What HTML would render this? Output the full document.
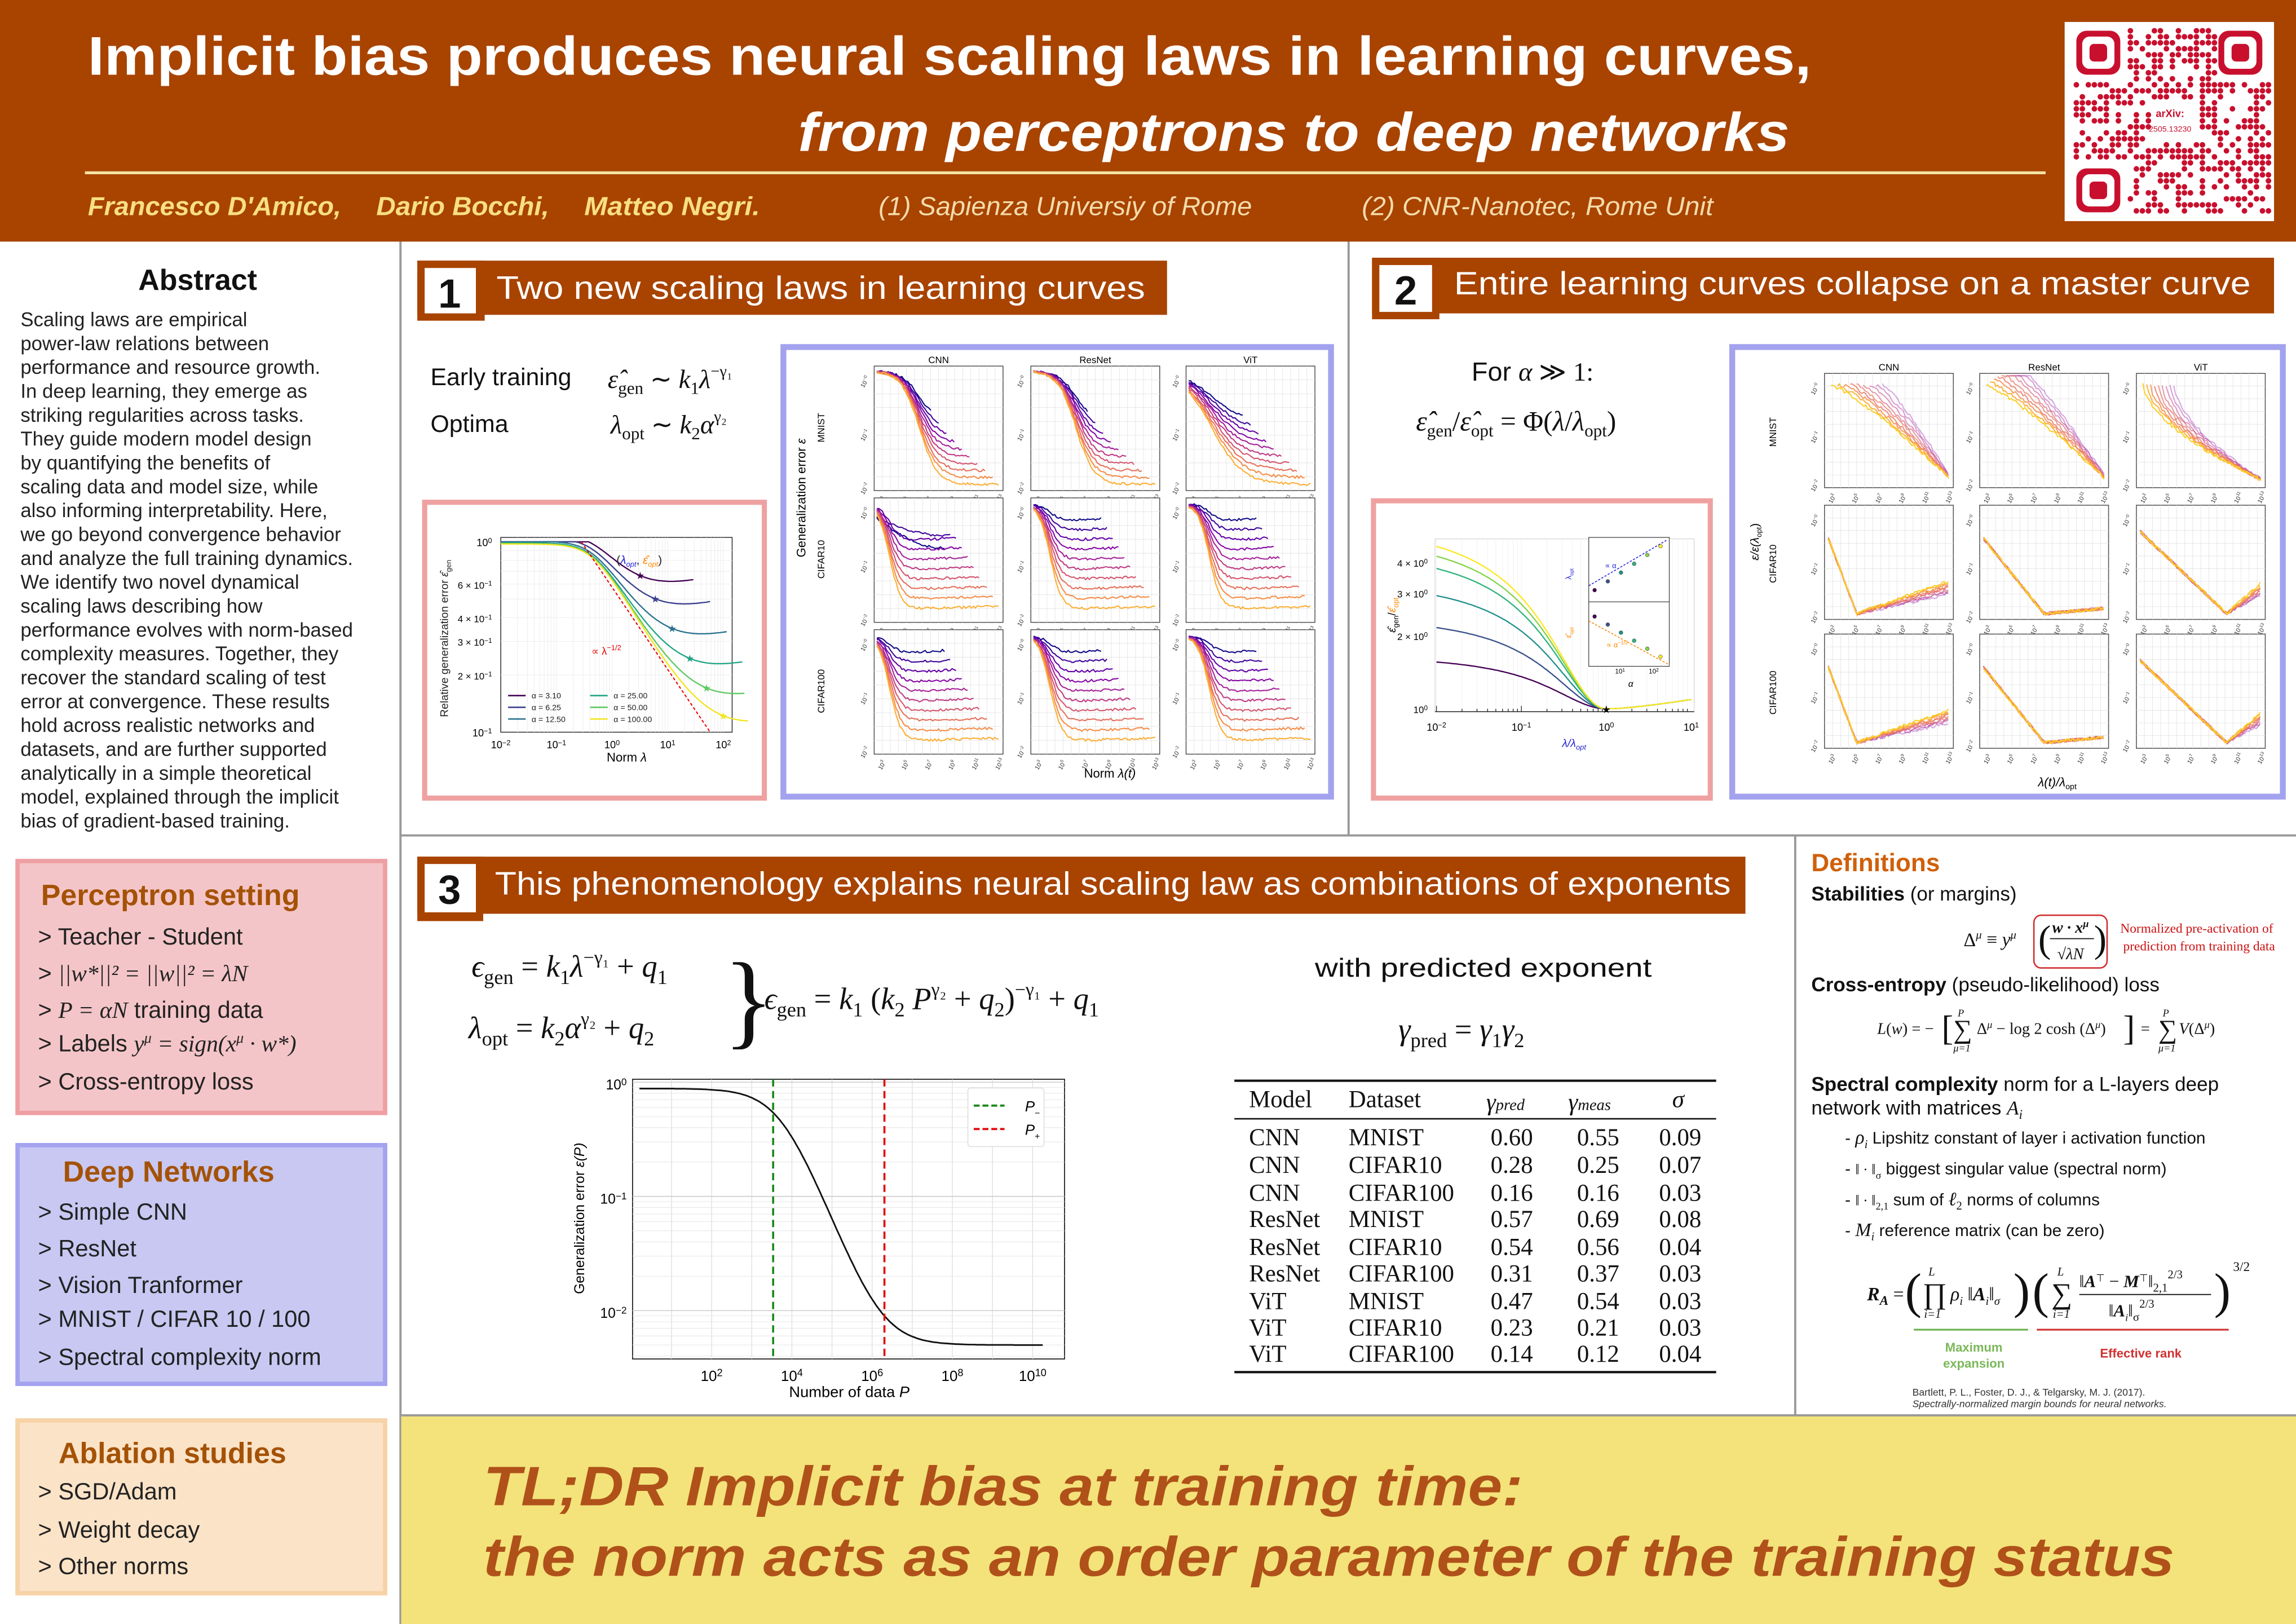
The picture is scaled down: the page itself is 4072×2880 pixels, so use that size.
<!DOCTYPE html>
<html><head><meta charset="utf-8">
<style>
html,body{margin:0;padding:0;background:#fff;}
svg{display:block}
text{font-family:"Liberation Sans",sans-serif}
.sf,.sf text,.sf tspan,text.sf,tspan.sf{font-family:"Liberation Serif",serif}
</style></head><body>
<svg id="s" xmlns="http://www.w3.org/2000/svg" width="4072" height="2880" viewBox="0 0 1568 1109" preserveAspectRatio="none">
<rect x="0" y="0" width="1568" height="1109" fill="#fff"/>
<!-- header -->
<rect x="0" y="0" width="1568" height="165" fill="#a84300"/>
<text x="60" y="51" font-size="37" font-weight="bold" fill="#fff" textLength="1177" lengthAdjust="spacingAndGlyphs">Implicit bias produces neural scaling laws in learning curves,</text>
<text x="545" y="103" font-size="37" font-weight="bold" font-style="italic" fill="#fff" textLength="677" lengthAdjust="spacingAndGlyphs">from perceptrons to deep networks</text>
<line x1="58" y1="118" x2="1397" y2="118" stroke="#f3e3a3" stroke-width="2"/>
<g font-size="18" font-style="italic" fill="#f8df84" font-weight="bold">
<text x="60" y="147" textLength="173" lengthAdjust="spacingAndGlyphs">Francesco D'Amico,</text>
<text x="257" y="147" textLength="118" lengthAdjust="spacingAndGlyphs">Dario Bocchi,</text>
<text x="399" y="147" textLength="120" lengthAdjust="spacingAndGlyphs">Matteo Negri.</text>
</g>
<g font-size="18" font-style="italic" fill="#f5dcaa">
<text x="600" y="147" textLength="255" lengthAdjust="spacingAndGlyphs">(1) Sapienza Universiy of Rome</text>
<text x="930" y="147" textLength="240" lengthAdjust="spacingAndGlyphs">(2) CNR-Nanotec, Rome Unit</text>
</g>
<rect x="1410" y="15" width="143" height="136" fill="#fff"/>
<g id="qr"></g>

<!-- separators -->
<line x1="273.5" y1="165" x2="273.5" y2="1109" stroke="#999" stroke-width="1.5"/>
<line x1="921" y1="165" x2="921" y2="570" stroke="#999" stroke-width="1.5"/>
<line x1="273" y1="570.5" x2="1568" y2="570.5" stroke="#999" stroke-width="1.5"/>
<line x1="1226" y1="570" x2="1226" y2="966" stroke="#999" stroke-width="1.5"/>
<rect x="274" y="967" width="1294" height="142" fill="#f3e37a"/>
<line x1="273" y1="966.5" x2="1568" y2="966.5" stroke="#999" stroke-width="1.5"/>
<text x="330" y="1028" font-size="38" font-weight="bold" font-style="italic" fill="#b0511a" textLength="710" lengthAdjust="spacingAndGlyphs">TL;DR  Implicit bias at training time:</text>
<text x="330" y="1076" font-size="38" font-weight="bold" font-style="italic" fill="#b0511a" textLength="1155" lengthAdjust="spacingAndGlyphs">the norm acts as an order parameter of the training status</text>

<!-- abstract -->
<text x="135" y="198" font-size="20" font-weight="bold" text-anchor="middle" fill="#111">Abstract</text>
<g id="abs" font-size="13.4" fill="#222"></g>

<!-- boxes left -->
<rect x="12" y="588" width="251" height="172" fill="#f4c5c8" stroke="#ee9fa2" stroke-width="3"/>
<text x="28" y="618" font-size="20" font-weight="bold" fill="#a45206">Perceptron setting</text>
<g font-size="16" fill="#222">
<text x="26" y="645">&gt; Teacher - Student</text>
<text x="26" y="670">&gt; <tspan class="sf" font-style="italic">||w*||² = ||w||² = λN</tspan></text>
<text x="26" y="695">&gt; <tspan class="sf" font-style="italic">P = αN</tspan> training data</text>
<text x="26" y="718">&gt; Labels  <tspan class="sf" font-style="italic">y<tspan font-size="10" dy="-6">μ</tspan><tspan dy="6"> = sign(x</tspan><tspan font-size="10" dy="-6">μ</tspan><tspan dy="6"> · w*)</tspan></tspan></text>
<text x="26" y="744">&gt; Cross-entropy loss</text>
</g>
<rect x="12" y="782" width="251" height="163" fill="#c8c8f3" stroke="#a3a3ef" stroke-width="3"/>
<text x="43" y="807" font-size="20" font-weight="bold" fill="#a45206">Deep Networks</text>
<g font-size="16" fill="#222">
<text x="26" y="833">&gt; Simple CNN</text>
<text x="26" y="858">&gt; ResNet</text>
<text x="26" y="883">&gt; Vision Tranformer</text>
<text x="26" y="906">&gt; MNIST / CIFAR 10 / 100</text>
<text x="26" y="932">&gt; Spectral complexity norm</text>
</g>
<rect x="12" y="970" width="251" height="118" fill="#fbe3c7" stroke="#f6d3a7" stroke-width="3"/>
<text x="40" y="999" font-size="20" font-weight="bold" fill="#a45206">Ablation studies</text>
<g font-size="16" fill="#222">
<text x="26" y="1024">&gt; SGD/Adam</text>
<text x="26" y="1050">&gt; Weight decay</text>
<text x="26" y="1075">&gt; Other norms</text>
</g>

<!-- section title boxes -->
<rect x="285" y="178" width="512" height="37" fill="#a84300"/>
<rect x="285" y="178" width="46" height="41" fill="#a84300"/>
<rect x="290" y="183" width="35" height="31" fill="#fff"/>
<text x="307" y="210" font-size="28" font-weight="bold" text-anchor="middle" fill="#111">1</text>
<text x="339" y="204" font-size="22" fill="#fff" textLength="443" lengthAdjust="spacingAndGlyphs">Two new scaling laws in learning curves</text>

<rect x="937" y="176" width="616" height="38" fill="#a84300"/>
<rect x="937" y="176" width="46" height="42" fill="#a84300"/>
<rect x="942" y="181" width="36" height="32" fill="#fff"/>
<text x="960" y="208" font-size="28" font-weight="bold" text-anchor="middle" fill="#111">2</text>
<text x="993" y="201" font-size="22" fill="#fff" textLength="544" lengthAdjust="spacingAndGlyphs">Entire learning curves collapse on a master curve</text>

<rect x="285" y="585" width="907" height="39" fill="#a84300"/>
<rect x="285" y="585" width="45" height="44" fill="#a84300"/>
<rect x="290" y="590" width="35" height="33" fill="#fff"/>
<text x="307" y="617" font-size="28" font-weight="bold" text-anchor="middle" fill="#111">3</text>
<text x="338" y="611" font-size="22" fill="#fff" textLength="844" lengthAdjust="spacingAndGlyphs">This phenomenology explains neural scaling law as combinations of exponents</text>

<!-- panel 1 equations -->
<text x="294" y="263" font-size="16.5" fill="#111">Early training</text>
<text x="294" y="295" font-size="16.5" fill="#111">Optima</text>
<text x="415" y="265" font-size="18" class="sf" fill="#111"><tspan font-style="italic">ε̂</tspan><tspan font-size="12" dy="4">gen</tspan><tspan dy="-4"> ∼ </tspan><tspan font-style="italic">k</tspan><tspan font-size="12" dy="4">1</tspan><tspan dy="-4" font-style="italic">λ</tspan><tspan font-size="11" dy="-8">−γ₁</tspan></text>
<text x="417" y="296" font-size="18" class="sf" fill="#111"><tspan font-style="italic">λ</tspan><tspan font-size="12" dy="4">opt</tspan><tspan dy="-4"> ∼ </tspan><tspan font-style="italic">k</tspan><tspan font-size="12" dy="4">2</tspan><tspan dy="-4" font-style="italic">α</tspan><tspan font-size="11" dy="-8">γ₂</tspan></text>

<!-- panel 2 equations -->
<text x="1005" y="260" font-size="18" fill="#111">For  <tspan class="sf" font-style="italic">α</tspan><tspan class="sf"> ≫ 1:</tspan></text>
<text x="967" y="294" font-size="19" class="sf" fill="#111"><tspan font-style="italic">ε̂</tspan><tspan font-size="12" dy="4">gen</tspan><tspan dy="-4">/</tspan><tspan font-style="italic">ε̂</tspan><tspan font-size="12" dy="4">opt</tspan><tspan dy="-4"> = Φ(</tspan><tspan font-style="italic">λ</tspan><tspan>/</tspan><tspan font-style="italic">λ</tspan><tspan font-size="12" dy="4">opt</tspan><tspan dy="-4">)</tspan></text>

<!-- boxes panels 1,2 -->
<rect x="290" y="343" width="232" height="202" fill="#fff" stroke="#efa1a1" stroke-width="3.5"/>
<rect x="535" y="237" width="374" height="307" fill="#fff" stroke="#a2a2ee" stroke-width="4"/>
<rect x="938" y="342" width="230" height="203" fill="#fff" stroke="#efa1a1" stroke-width="3.5"/>
<rect x="1183" y="237" width="376" height="307" fill="#fff" stroke="#a2a2ee" stroke-width="4"/>

<!-- panel 3 equations -->
<g class="sf" fill="#111" font-size="21">
<text x="322" y="667"><tspan font-style="italic">ϵ</tspan><tspan font-size="14" dy="5">gen</tspan><tspan dy="-5"> = </tspan><tspan font-style="italic">k</tspan><tspan font-size="14" dy="5">1</tspan><tspan dy="-5" font-style="italic">λ</tspan><tspan font-size="13" dy="-9">−γ₁</tspan><tspan dy="9"> + </tspan><tspan font-style="italic">q</tspan><tspan font-size="14" dy="5">1</tspan></text>
<text x="320" y="709"><tspan font-style="italic">λ</tspan><tspan font-size="14" dy="5">opt</tspan><tspan dy="-5"> = </tspan><tspan font-style="italic">k</tspan><tspan font-size="14" dy="5">2</tspan><tspan dy="-5" font-style="italic">α</tspan><tspan font-size="13" dy="-9">γ₂</tspan><tspan dy="9"> + </tspan><tspan font-style="italic">q</tspan><tspan font-size="14" dy="5">2</tspan></text>
<text x="494" y="707" font-size="72" font-weight="normal">}</text>
<text x="522" y="689"><tspan font-style="italic">ϵ</tspan><tspan font-size="14" dy="5">gen</tspan><tspan dy="-5"> = </tspan><tspan font-style="italic">k</tspan><tspan font-size="14" dy="5">1</tspan><tspan dy="-5"> (</tspan><tspan font-style="italic">k</tspan><tspan font-size="14" dy="5">2</tspan><tspan dy="-5" font-style="italic"> P</tspan><tspan font-size="13" dy="-9">γ₂</tspan><tspan dy="9"> + </tspan><tspan font-style="italic">q</tspan><tspan font-size="14" dy="5">2</tspan><tspan dy="-5">)</tspan><tspan font-size="13" dy="-9">−γ₁</tspan><tspan dy="9"> + </tspan><tspan font-style="italic">q</tspan><tspan font-size="14" dy="5">1</tspan></text>
<text x="955" y="710"><tspan font-style="italic">γ</tspan><tspan font-size="14" dy="5">pred</tspan><tspan dy="-5"> = </tspan><tspan font-style="italic">γ</tspan><tspan font-size="14" dy="5">1</tspan><tspan dy="-5" font-style="italic">γ</tspan><tspan font-size="14" dy="5">2</tspan></text>
</g>
<text x="898" y="667" font-size="18" fill="#111" textLength="230" lengthAdjust="spacingAndGlyphs">with predicted exponent</text>

<!-- table -->
<g stroke="#111">
<line x1="843" y1="738" x2="1172" y2="738" stroke-width="1.6"/>
<line x1="843" y1="764" x2="1172" y2="764" stroke-width="1"/>
<line x1="843" y1="937" x2="1172" y2="937" stroke-width="1.6"/>
</g>
<g id="tbl" class="sf" font-size="16.5" fill="#111"></g>

<!-- definitions -->
<text x="1237" y="595" font-size="17" font-weight="bold" fill="#d0600a">Definitions</text>
<text x="1237" y="615" font-size="13.5" fill="#111"><tspan font-weight="bold">Stabilities</tspan> (or margins)</text>
<g class="sf" fill="#111">
<text x="1341" y="646" font-size="13">Δ<tspan font-size="8" dy="-5" font-style="italic">μ</tspan><tspan dy="5"> ≡ </tspan><tspan font-style="italic">y</tspan><tspan font-size="8" dy="-5" font-style="italic">μ</tspan></text>
<text x="1392" y="650" font-size="26">(</text>
<text x="1430" y="650" font-size="26">)</text>
<text x="1414" y="637" font-size="11" text-anchor="middle" font-style="italic" font-weight="bold">w · x<tspan font-size="7" dy="-4">μ</tspan></text>
<line x1="1400" y1="641" x2="1430" y2="641" stroke="#111" stroke-width="0.7"/>
<text x="1414" y="655" font-size="11" text-anchor="middle" font-style="italic">√λN</text>
</g>
<rect x="1389" y="625" width="50" height="36" rx="5" fill="none" stroke="#d03030" stroke-width="1"/>
<text x="1448" y="637" font-size="9" class="sf" fill="#cc1111">Normalized pre-activation of</text>
<text x="1450" y="649" font-size="9" class="sf" fill="#cc1111">prediction from training data</text>
<text x="1237" y="677" font-size="13.5" fill="#111"><tspan font-weight="bold">Cross-entropy</tspan> (pseudo-likelihood) loss</text>
<g class="sf" fill="#111" font-size="11">
<text x="1282" y="706"><tspan font-style="italic">L</tspan>(<tspan font-style="italic">w</tspan>) = −</text>
<text x="1326" y="710" font-size="24">[</text>
<text x="1334" y="709" font-size="18">∑</text>
<text x="1337" y="694" font-size="7" font-style="italic">P</text>
<text x="1334" y="718" font-size="7" font-style="italic">μ=1</text>
<text x="1350" y="706">Δ<tspan font-size="7" dy="-4" font-style="italic">μ</tspan><tspan dy="4"> − log 2 cosh (Δ</tspan><tspan font-size="7" dy="-4" font-style="italic">μ</tspan><tspan dy="4">)</tspan></text>
<text x="1450" y="710" font-size="24">]</text>
<text x="1462" y="706">=</text>
<text x="1474" y="709" font-size="18">∑</text>
<text x="1477" y="694" font-size="7" font-style="italic">P</text>
<text x="1474" y="718" font-size="7" font-style="italic">μ=1</text>
<text x="1488" y="706"><tspan font-style="italic">V</tspan>(Δ<tspan font-size="7" dy="-4" font-style="italic">μ</tspan><tspan dy="4">)</tspan></text>
</g>
<text x="1237" y="745" font-size="13.5" fill="#111"><tspan font-weight="bold">Spectral complexity</tspan> norm for a L-layers deep</text>
<text x="1237" y="761" font-size="13.5" fill="#111">network with matrices <tspan class="sf" font-style="italic">A</tspan><tspan class="sf" font-style="italic" font-size="9" dy="3">i</tspan></text>
<g font-size="11.5" fill="#111">
<text x="1260" y="781">-  <tspan class="sf" font-style="italic" font-size="13">ρ</tspan><tspan class="sf" font-style="italic" font-size="8" dy="3">i</tspan><tspan dy="-3">  Lipshitz constant of layer i activation function</tspan></text>
<text x="1260" y="802">-  <tspan class="sf" font-size="10">‖ · ‖</tspan><tspan class="sf" font-size="7" dy="3">σ</tspan><tspan dy="-3"> biggest singular value (spectral norm)</tspan></text>
<text x="1260" y="823">-  <tspan class="sf" font-size="10">‖ · ‖</tspan><tspan class="sf" font-size="7" dy="3">2,1</tspan><tspan dy="-3"> sum of  </tspan><tspan class="sf" font-style="italic" font-size="13">ℓ</tspan><tspan class="sf" font-size="8" dy="3">2</tspan><tspan dy="-3">  norms of columns</tspan></text>
<text x="1260" y="844">-  <tspan class="sf" font-style="italic" font-size="13">M</tspan><tspan class="sf" font-style="italic" font-size="8" dy="3">i</tspan><tspan dy="-3">  reference matrix (can be zero)</tspan></text>
</g>
<g class="sf" fill="#111" font-size="13">
<text x="1275" y="888" font-style="italic" font-weight="bold">R<tspan font-size="9" dy="3">A</tspan><tspan dy="-3" font-weight="normal" font-style="normal"> =</tspan></text>
<text x="1301" y="893" font-size="34">(</text>
<text x="1313" y="890" font-size="20">∏</text>
<text x="1317" y="871" font-size="8" font-style="italic">L</text>
<text x="1314" y="900" font-size="8" font-style="italic">i=1</text>
<text x="1332" y="888"><tspan font-style="italic">ρ</tspan><tspan font-size="8" dy="3" font-style="italic">i</tspan><tspan dy="-3"> ‖</tspan><tspan font-style="italic" font-weight="bold">A</tspan><tspan font-size="8" dy="3" font-style="italic">i</tspan><tspan dy="-3">‖</tspan><tspan font-size="8" dy="3" font-style="italic">σ</tspan></text>
<text x="1375" y="893" font-size="34">)</text>
<text x="1388" y="893" font-size="34">(</text>
<text x="1401" y="890" font-size="20">∑</text>
<text x="1405" y="871" font-size="8" font-style="italic">L</text>
<text x="1402" y="900" font-size="8" font-style="italic">i=1</text>
<text x="1420" y="879" font-size="12">‖<tspan font-style="italic" font-weight="bold">A</tspan><tspan font-size="7" dy="-4">⊤</tspan><tspan dy="4"> − </tspan><tspan font-style="italic" font-weight="bold">M</tspan><tspan font-size="7" dy="-4">⊤</tspan><tspan dy="4">‖</tspan><tspan font-size="8" dy="3">2,1</tspan><tspan font-size="8" dy="-9">2/3</tspan></text>
<line x1="1420" y1="884" x2="1510" y2="884" stroke="#111" stroke-width="0.7"/>
<text x="1440" y="899" font-size="12">‖<tspan font-style="italic" font-weight="bold">A</tspan><tspan font-size="7" dy="3" font-style="italic">i</tspan><tspan dy="-3">‖</tspan><tspan font-size="8" dy="3">σ</tspan><tspan font-size="8" dy="-9">2/3</tspan></text>
<text x="1512" y="893" font-size="34">)</text>
<text x="1525" y="868" font-size="9">3/2</text>
</g>
<line x1="1307" y1="908" x2="1385" y2="908" stroke="#6ab04c" stroke-width="1.2"/>
<line x1="1391" y1="908" x2="1522" y2="908" stroke="#d03030" stroke-width="1.2"/>
<text x="1348" y="923" font-size="8.5" font-weight="bold" fill="#7ab85a" text-anchor="middle">Maximum</text>
<text x="1348" y="934" font-size="8.5" font-weight="bold" fill="#7ab85a" text-anchor="middle">expansion</text>
<text x="1462" y="927" font-size="8.5" font-weight="bold" fill="#d03030" text-anchor="middle">Effective rank</text>
<text x="1306" y="953" font-size="6.8" fill="#333">Bartlett, P. L., Foster, D. J., &amp; Telgarsky, M. J. (2017).</text>
<text x="1306" y="961" font-size="6.8" font-style="italic" fill="#333">Spectrally-normalized margin bounds for neural networks.</text>

<g id="dyn"></g>
</svg>
<script>
(function(){
const S=document.getElementById('dyn');
let o='';
let seed=12345;function rnd(){seed=(seed*16807)%2147483647;return seed/2147483647;}
function pl(pts,c,w,ex){return '<polyline points="'+pts.map(p=>p[0].toFixed(1)+','+p[1].toFixed(1)).join(' ')+'" fill="none" stroke="'+c+'" stroke-width="'+w+'" '+(ex||'')+'/>';}
function L(x1,y1,x2,y2,c,w,ex){return '<line x1="'+x1+'" y1="'+y1+'" x2="'+x2+'" y2="'+y2+'" stroke="'+c+'" stroke-width="'+w+'" '+(ex||'')+'/>';}
function T(x,y,s,fs,ex){return '<text x="'+x+'" y="'+y+'" font-size="'+fs+'" '+(ex||'')+'>'+s+'</text>';}
function pw(b,e){return b+'<tspan font-size="0.7em" dy="-0.45em">'+e+'</tspan>';}

const abs=["Scaling laws are empirical","power-law relations between","performance and resource growth.","In deep learning, they emerge as","striking regularities across tasks.","They guide modern model design","by quantifying the benefits of","scaling data and model size, while","also informing interpretability. Here,","we go beyond convergence behavior","and analyze the full training dynamics.","We identify two novel dynamical","scaling laws describing how","performance evolves with norm-based","complexity measures. Together, they","recover the standard scaling of test","error at convergence. These results","hold across realistic networks and","datasets, and are further supported","analytically in a simple theoretical","model, explained through the implicit","bias of gradient-based training."];
let a='';abs.forEach((t,i)=>{a+='<text x="14" y="'+(222.8+16.3*i).toFixed(1)+'">'+t+'</text>';});
document.getElementById('abs').innerHTML=a;

const rows=[["CNN","MNIST","0.60","0.55","0.09"],["CNN","CIFAR10","0.28","0.25","0.07"],["CNN","CIFAR100","0.16","0.16","0.03"],["ResNet","MNIST","0.57","0.69","0.08"],["ResNet","CIFAR10","0.54","0.56","0.04"],["ResNet","CIFAR100","0.31","0.37","0.03"],["ViT","MNIST","0.47","0.54","0.03"],["ViT","CIFAR10","0.23","0.21","0.03"],["ViT","CIFAR100","0.14","0.12","0.04"]];
const ry=[782,801,820,838,857,875,894,912,930];
let tb='<text x="853" y="756">Model</text><text x="921" y="756">Dataset</text><text x="1015" y="758" font-style="italic">γ<tspan font-size="11">pred</tspan></text><text x="1071" y="758" font-style="italic">γ<tspan font-size="11">meas</tspan></text><text x="1142" y="756" font-style="italic">σ</text>';
rows.forEach((r,i)=>{tb+='<text x="853" y="'+ry[i]+'">'+r[0]+'</text><text x="921" y="'+ry[i]+'">'+r[1]+'</text><text x="1018" y="'+ry[i]+'">'+r[2]+'</text><text x="1077" y="'+ry[i]+'">'+r[3]+'</text><text x="1133" y="'+ry[i]+'">'+r[4]+'</text>';});
document.getElementById('tbl').innerHTML=tb;

let q='';
function finder(x,y){return '<rect x="'+x+'" y="'+y+'" width="30" height="30" rx="7" fill="#c8102e"/><rect x="'+(x+4)+'" y="'+(y+4)+'" width="22" height="22" rx="5" fill="#fff"/><rect x="'+(x+9)+'" y="'+(y+9)+'" width="12" height="12" rx="3" fill="#c8102e"/>';}
for(let i=0;i<33;i++)for(let j=0;j<31;j++){
 const x=1416+i*4.1,y=19+j*4.1;
 if((i<9&&j<9)||(i>23&&j<9)||(i<9&&j>21))continue;
 if(i>12&&i<21&&j>11&&j<19)continue;
 if(rnd()<0.5)q+='<circle cx="'+(x+2).toFixed(1)+'" cy="'+(y+2).toFixed(1)+'" r="1.9" fill="#c8102e"/>';
}
q+=finder(1418,21)+finder(1515,21)+finder(1418,115);
q+='<text x="1482" y="80" font-size="7" text-anchor="middle" fill="#c8102e" font-weight="bold">arXiv:</text><text x="1482" y="90" font-size="5.5" text-anchor="middle" fill="#c8102e">2505.13230</text>';
document.getElementById('qr').innerHTML=q;

{
 const X=l=>418+38*Math.log10(l), Y=e=>370-130*Math.log10(e);
 o+='<rect x="342" y="367" width="158" height="133" fill="none" stroke="#333" stroke-width="0.6"/>';
 for(let d=-2;d<=2;d++)for(let m=1;m<10;m++){const x=X(m*Math.pow(10,d));if(x>342&&x<500)o+=L(x,367,x,500,'#eee',0.4);}
 [0.2,0.3,0.4,0.5,0.6,0.7,0.8,0.9].forEach(v=>o+=L(342,Y(v),500,Y(v),'#eee',0.4));
 const cols=['#440154','#3b3f8c','#2c728e','#21a585','#5ec962','#f2e51d'];
 const mins=[0.62,0.475,0.33,0.23,0.16,0.115], lo=[3.2,6,12,25,50,100], ends=[30,60,120,220,250,280];
 cols.forEach((c,i)=>{
  let pts=[];
  for(let u=-2;u<=Math.log10(ends[i]);u+=0.02){
   const l=Math.pow(10,u);const f=Math.pow(1+Math.pow(l/0.45,2),-0.25);
   let e=Math.sqrt(f*f+mins[i]*mins[i]*0.72)*(1+0.09*Math.log(1+l/lo[i]))*0.97;
   if(e>1)e=1;
   pts.push([X(l),Y(e)]);}
  o+=pl(pts,c,0.9);
  let f=Math.pow(1+Math.pow(lo[i]/0.45,2),-0.25);let e=Math.sqrt(f*f+mins[i]*mins[i]*0.72)*(1+0.09*Math.log(2))*0.97;
  o+=T(X(lo[i]),Y(e)+2.5,'★',7,'text-anchor="middle" fill="'+c+'"');
 });
 o+=L(397,370,485,500,'#e00',0.8,'stroke-dasharray="2,1.5"');
 o+=T(404,447,'∝ λ<tspan font-size="5" dy="-3">−1/2</tspan>',7,'fill="#e00"');
 o+=T(421,385,'(<tspan fill="#22d" font-style="italic">λ<tspan font-size="5" dy="2">opt</tspan></tspan><tspan dy="-2">, </tspan><tspan fill="#f80" font-style="italic">ε̂<tspan font-size="5" dy="2">opt</tspan></tspan><tspan dy="-2">)</tspan>',8,'fill="#222"');
 const lg=[['α = 3.10',347,477],['α = 6.25',347,485],['α = 12.50',347,493],['α = 25.00',403,477],['α = 50.00',403,485],['α = 100.00',403,493]];
 lg.forEach((g,i)=>{o+=L(g[1],g[2]-2,g[1]+12,g[2]-2,cols[i],1);o+=T(g[1]+16,g[2],g[0],5.5,'fill="#222"');});
 o+=T(336,373,pw('10','0'),7,'text-anchor="end"');
 o+=T(336,402,'6 × '+pw('10','−1'),6.5,'text-anchor="end"');
 o+=T(336,425,'4 × '+pw('10','−1'),6.5,'text-anchor="end"');
 o+=T(336,441,'3 × '+pw('10','−1'),6.5,'text-anchor="end"');
 o+=T(336,464,'2 × '+pw('10','−1'),6.5,'text-anchor="end"');
 o+=T(336,503,pw('10','−1'),7,'text-anchor="end"');
 [-2,-1,0,1,2].forEach(d=>o+=T(X(Math.pow(10,d)),511,pw('10',d<0?'−'+(-d):d),7,'text-anchor="middle"'));
 o+=T(428,520,'Norm <tspan font-style="italic">λ</tspan>',8.5,'text-anchor="middle"');
 o+=T(0,0,'Relative generalization error <tspan font-style="italic">ε̂</tspan><tspan font-size="5" dy="2">gen</tspan>',7.5,'transform="translate(306,436) rotate(-90)" text-anchor="middle" fill="#222"');
}

const plasma=['#0d0887','#3e049c','#6300a7','#8606a6','#a62098','#c03a83','#d5546e','#e76f5a','#f58c46','#fdad32','#f9d027'];
function frame(x0,y0,w,h){
 let s='<rect x="'+x0+'" y="'+y0+'" width="'+w+'" height="'+h+'" fill="#fff" stroke="#555" stroke-width="0.6"/>';
 for(let k=1;k<16;k++){const gx=x0+w*k/16;s+=L(gx.toFixed(1),y0,gx.toFixed(1),y0+h,'#e4e4e4',0.35);}
 for(let k=1;k<9;k++){const gy=y0+h*k/9;s+=L(x0,gy.toFixed(1),x0+w,gy.toFixed(1),'#e4e4e4',0.35);}
 for(let k=0;k<6;k++){s+='<text transform="translate('+(x0+5+k*(w-8)/5).toFixed(1)+','+(y0+h+11)+') rotate(-60)" font-size="4.2" fill="#333">10<tspan font-size="3" dy="-2">'+(k*2+3)+'</tspan></text>';}
 for(let k=0;k<3;k++){s+='<text transform="translate('+(x0-3)+','+(y0+8+k*(h-12)/2).toFixed(1)+') rotate(-60)" font-size="4.2" fill="#333" text-anchor="end">10<tspan font-size="3" dy="-2">−'+k+'</tspan></text>';}
 return s;
}
function cellA(x0,y0,w,h,row,col){
 let s=frame(x0,y0,w,h);
 const n=10;
 for(let i=0;i<n;i++){
  const fi=i/(n-1);let pts=[];
  const tend=row==0?0.45+0.53*fi:(0.55+0.42*fi);
  for(let t=0.02;t<=tend;t+=0.015){
   let y;
   if(row==0){const fl=0.45+0.5*fi;const t0=col==2?0.2:0.35;y=0.04+(fl-0.04)/(1+Math.exp(-(t-t0)/(col==2?0.12:0.07)));}
   else{const fl=0.2+0.7*fi;const t0=0.12+0.03*col;y=0.05+(fl-0.05)/(1+Math.exp(-(t-t0)/0.045))-0.06*t*(1-fi*0.5);if(row==1&&col==0&&i<2)y=0.15+0.25*Math.sin(t*3)*(i?0.6:1);}
   y+=(rnd()-0.5)*0.02;
   pts.push([x0+w*t,y0+h*Math.min(0.98,Math.max(0.02,y))]);
  }
  s+=pl(pts,plasma[i],0.8);
 }
 return s;
}
const cxA=[597,704,810],cyA=[250,340,430];
for(let r=0;r<3;r++)for(let c=0;c<3;c++)o+=cellA(cxA[c],cyA[r],88,85,r,c);
['CNN','ResNet','ViT'].forEach((t,i)=>o+=T(cxA[i]+44,248,t,6.5,'text-anchor="middle"'));
['MNIST','CIFAR10','CIFAR100'].forEach((t,i)=>o+=T(0,0,t,6.5,'transform="translate(563,'+(cyA[i]+42)+') rotate(-90)" text-anchor="middle"'));
o+=T(0,0,'Generalization error <tspan font-style="italic">ε</tspan>',8.5,'transform="translate(550,340) rotate(-90)" text-anchor="middle"');
o+=T(758,531,'Norm <tspan font-style="italic">λ(t)</tspan>',8.5,'text-anchor="middle"');

function cellB(x0,y0,w,h,row,col){
 let s=frame(x0,y0,w,h);
 const n=9;
 for(let i=0;i<n;i++){
  const fi=i/(n-1);let pts=[];
  const op=0.35+0.65*fi;
  const c=plasma[3+Math.round(fi*7)];
  const ts=row==0?0.05+0.4*(1-fi)*(col==0?1:0.6):0.03;
  for(let t=ts;t<=0.97;t+=0.015){
   let y;
   if(row==0){const u=(t-ts)/(1-ts);y=0.1+0.85*Math.pow(u,col==2?0.6:1.2)+(col==1?-0.2*(1-fi)*(1-u):0);}
   else if(col==1){y=0.25+0.7*Math.min(1,t/0.5)-0.1*Math.max(0,t-0.5);}
   else{const tm=col==0?0.25:0.7;y=t<tm?0.2+0.75*t/tm:0.95-0.3*(t-tm)/(1-tm)*(0.6+0.4*fi);}
   y+=(rnd()-0.5)*0.03;
   pts.push([x0+w*t,y0+h*Math.min(0.98,Math.max(0.02,y))]);
  }
  s+=pl(pts,c,0.8,'stroke-opacity="'+op.toFixed(2)+'"');
 }
 return s;
}
const cxB=[1246,1352,1459],cyB=[255,345,433];
for(let r=0;r<3;r++)for(let c=0;c<3;c++)o+=cellB(cxB[c],cyB[r],88,78,r,c);
['CNN','ResNet','ViT'].forEach((t,i)=>o+=T(cxB[i]+44,253,t,6.5,'text-anchor="middle"'));
['MNIST','CIFAR10','CIFAR100'].forEach((t,i)=>o+=T(0,0,t,6.5,'transform="translate(1213,'+(cyB[i]+40)+') rotate(-90)" text-anchor="middle"'));
o+=T(0,0,'<tspan font-style="italic">ε/ε(λ</tspan><tspan font-size="5" dy="2">opt</tspan><tspan dy="-2">)</tspan>',8,'transform="translate(1201,370) rotate(-90)" text-anchor="middle"');
o+=T(1405,537,'<tspan font-style="italic">λ(t)/λ</tspan><tspan font-size="5.5" dy="2">opt</tspan>',8.5,'text-anchor="middle"');

{
 const X=u=>1097+58*u, Y=r=>484-168*Math.log10(r);
 o+='<rect x="980" y="368" width="177" height="118" fill="none" stroke="#ccc" stroke-width="0.4"/>';
 o+=L(980,486,1157,486,'#222',0.6);
 for(let d=-2;d<1;d++)for(let m=1;m<10;m++){const x=X(d+Math.log10(m));o+=L(x,368,x,486,'#f0f0f0',0.35);o+=L(x,486,x,m==1?482:484,'#222',0.5);}
 const cols=['#440154','#3b528b','#21918c','#2fb47c','#84d44b','#fde725'];
 const lv=[0.19,0.33,0.46,0.57,0.62,0.66];
 cols.forEach((c,i)=>{let pts=[];for(let u=-2;u<=1.02;u+=0.02){let lr=u<0?lv[i]*(1-1/(1+Math.pow(u/0.85,2)))/(1-1/(1+Math.pow(2/0.85,2))):0.04*u*u/(0.6+u)*1.5;pts.push([X(u),Y(Math.pow(10,lr))]);}o+=pl(pts,c,0.9);});
 o+=T(1097,487,'★',7,'text-anchor="middle"');
 o+=T(975,387,'4 × '+pw('10','0'),6.5,'text-anchor="end"');
 o+=T(975,408,'3 × '+pw('10','0'),6.5,'text-anchor="end"');
 o+=T(975,437,'2 × '+pw('10','0'),6.5,'text-anchor="end"');
 o+=T(975,487,pw('10','0'),6.5,'text-anchor="end"');
 [-2,-1,0,1].forEach(d=>o+=T(X(d),499,pw('10',d<0?'−'+(-d):d),7,'text-anchor="middle"'));
 o+=T(1075,510,'<tspan font-style="italic" fill="#22c">λ/λ<tspan font-size="5" dy="2">opt</tspan></tspan>',7.5,'text-anchor="middle"');
 o+=T(0,0,'<tspan font-style="italic">ε̂</tspan><tspan font-size="5" dy="2">gen</tspan><tspan dy="-2">/</tspan><tspan fill="#f80" font-style="italic">ε̂</tspan><tspan fill="#f80" font-size="5" dy="2">opt</tspan>',7.5,'transform="translate(953,420) rotate(-90)" text-anchor="middle"');
 o+='<rect x="1085" y="367" width="55" height="88" fill="#fff" stroke="#444" stroke-width="0.5"/>'+L(1085,411,1140,411,'#444',0.5);
 o+=L(1085,400,1138,369,'#22d',0.6,'stroke-dasharray="1.5,1"')+L(1085,424,1140,454,'#f80',0.6,'stroke-dasharray="1.5,1"');
 const pc=['#440154','#3b528b','#21918c','#2fb47c','#84d44b','#fde725'];
 pc.forEach((c,i)=>{o+='<circle cx="'+(1089+i*9)+'" cy="'+(403-i*6)+'" r="1.3" fill="'+c+'" stroke="#333" stroke-width="0.2"/>';o+='<circle cx="'+(1089+i*9)+'" cy="'+(421+i*5.5)+'" r="1.3" fill="'+c+'" stroke="#333" stroke-width="0.2"/>';});
 o+=T(1096,388,'∝ α',5,'fill="#22d"')+T(1097,442,'∝ α<tspan font-size="3.5" dy="-2">−1/2</tspan>',5,'fill="#f80"');
 o+=T(0,0,'λ<tspan font-size="3.5" dy="1.5">opt</tspan>',5.5,'transform="translate(1073,392) rotate(-90)" fill="#22d" text-anchor="middle"');
 o+=T(0,0,'ε̂<tspan font-size="3.5" dy="1.5">opt</tspan>',5.5,'transform="translate(1073,432) rotate(-90)" fill="#f80" text-anchor="middle"');
 o+=T(1103,460,pw('10','1'),4.5,'')+T(1126,460,pw('10','2'),4.5,'')+T(1112,469,'α',6,'font-style="italic"');
}

{
 const X=lp=>486+27.4*(lp-2), Y=e=>739-78*Math.log10(e);
 o+='<rect x="432" y="737" width="295" height="191" fill="#fff" stroke="#222" stroke-width="0.7"/>';
 for(let d=0;d<=10;d++){const x=X(d);if(x>432&&x<727)o+=L(x,737,x,928,'#ddd',0.5);}
 for(let d=-3;d<=0;d++)for(let m=1;m<10;m++){const y=Y(m*Math.pow(10,d));if(y>737&&y<928)o+=L(432,y,727,y,m==1?'#ccc':'#e6e6e6',m==1?0.6:0.4);}
 let pts=[];for(let lp=0.2;lp<=10.3;lp+=0.05){const P=Math.pow(10,lp);const e=0.005+0.875/(1+Math.pow(P/Math.pow(10,3.75),0.915));pts.push([X(lp),Y(e)]);}
 o+=pl(pts,'#111',1.1);
 o+=L(528,737,528,928,'#1a8a1a',1.4,'stroke-dasharray="5,3"')+L(604,737,604,928,'#e01010',1.4,'stroke-dasharray="5,3"');
 o+='<rect x="661" y="743" width="52" height="40" rx="2" fill="#fff" stroke="#ddd" stroke-width="0.6"/>';
 o+=L(665,755,686,755,'#1a8a1a',1.5,'stroke-dasharray="4,2"')+L(665,771,686,771,'#e01010',1.5,'stroke-dasharray="4,2"');
 o+=T(700,759,'<tspan font-style="italic">P</tspan><tspan font-size="6" dy="3">−</tspan>',10,'')+T(700,775,'<tspan font-style="italic">P</tspan><tspan font-size="6" dy="3">+</tspan>',10,'');
 [2,4,6,8,10].forEach(d=>o+=T(X(d),943,pw('10',d),10,'text-anchor="middle"'));
 o+=T(428,744,pw('10','0'),9.5,'text-anchor="end"')+T(428,822,pw('10','−1'),9.5,'text-anchor="end"')+T(428,900,pw('10','−2'),9.5,'text-anchor="end"');
 o+=T(580,954,'Number of data <tspan font-style="italic">P</tspan>',10.5,'text-anchor="middle"');
 o+=T(0,0,'Generalization error <tspan font-style="italic">ε(P)</tspan>',9.5,'transform="translate(399,832) rotate(-90)" text-anchor="middle"');
}
S.innerHTML=o;
})();
</script>
</body></html>
